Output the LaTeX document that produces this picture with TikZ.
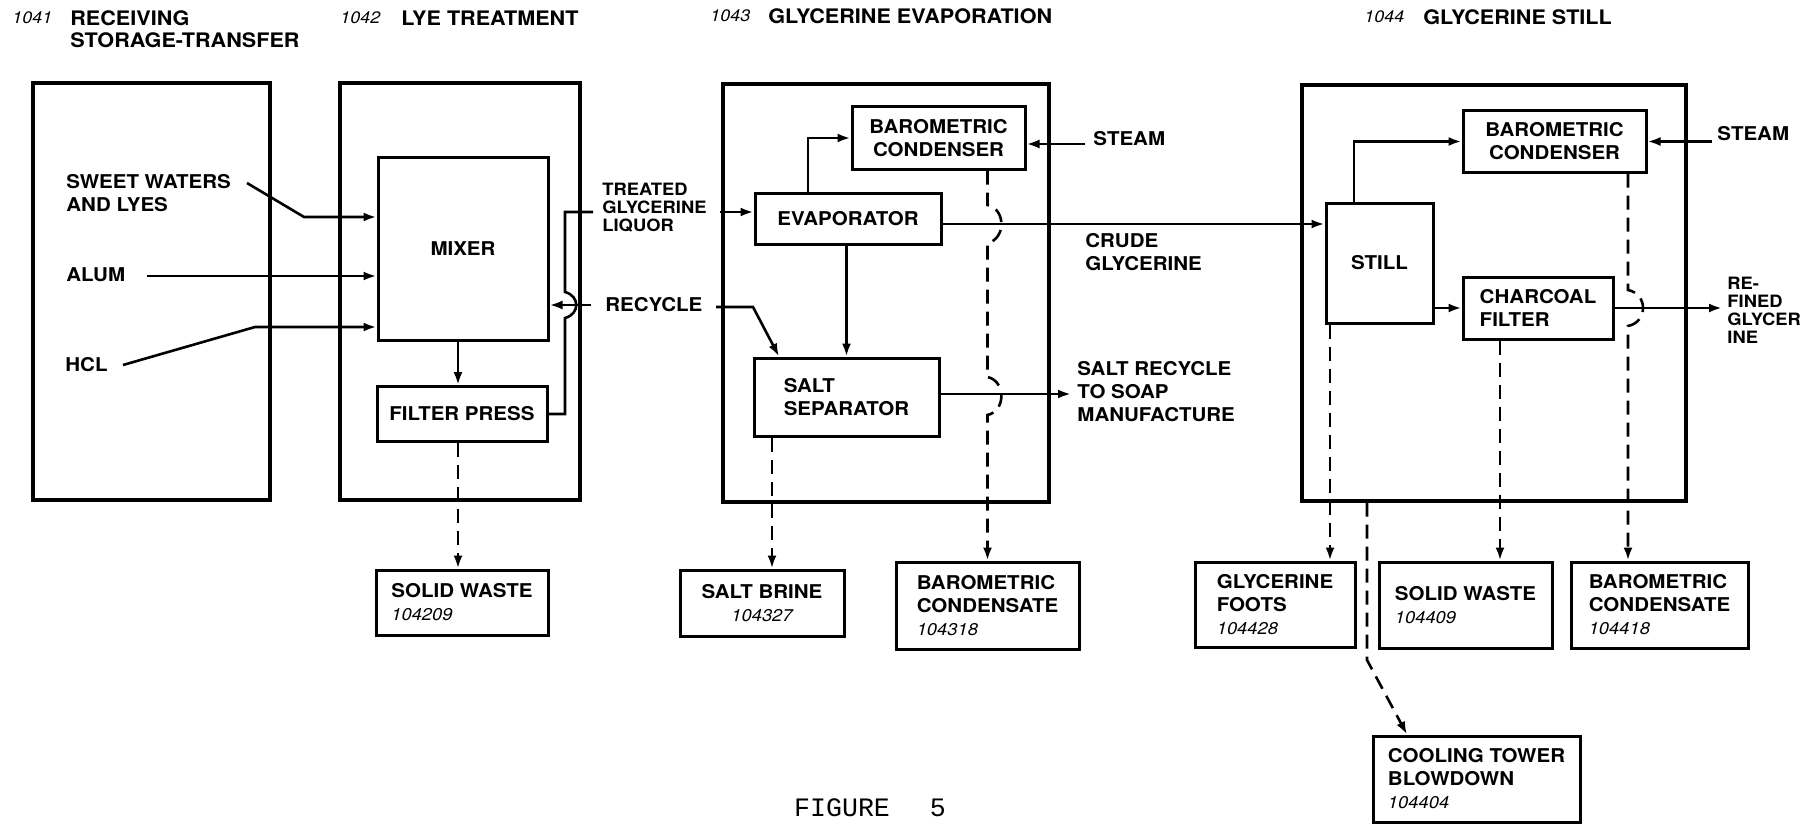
\documentclass[tikz,border=0pt]{standalone}
\usepackage{fontspec}
\setmainfont{TeX Gyre Heros}[FakeStretch=1.08]
\newfontfamily\figfont{Liberation Mono}
\usetikzlibrary{calc}
\usetikzlibrary{arrows.meta}

\newcommand\lbl{\fontsize{9.5}{11.5}\selectfont\bfseries}
\newcommand\sml{\fontsize{8.5}{9}\selectfont\bfseries}
\newcommand\hdr{\fontsize{10}{11}\selectfont\bfseries}
\newcommand\secno{\fontsize{8.3}{9}\selectfont\mdseries\itshape}
\newcommand\refno[1]{{\fontsize{8.5}{11.5}\selectfont\mdseries\itshape #1}}

\tikzset{
  area/.style={draw, line width=1.6pt, inner sep=0pt},
  unit/.style={draw, line width=1.5pt, inner sep=0pt, font=\lbl},
  boxsize/.style 2 args={minimum width=#1*0.5pt, minimum height=#2*0.5pt},
  tag/.style={inner sep=0pt, anchor=west, font=\lbl, align=left},
  pipe/.style={line width=1.3pt},
  flow/.style={pipe, -{Latex[length=6.5pt,width=4.5pt]}},
  waste/.style={flow, dash pattern=on 7pt off 4pt},
}

\begin{document}
\begin{tikzpicture}[x=0.5pt, y=-0.5pt]
\useasboundingbox (0,0) rectangle (1818,824);

% section titles
\node[tag, font=\secno] (n41) at (12,18) {1041};
\node[tag, font=\hdr] (t41) at (70,29) {RECEIVING\\STORAGE-TRANSFER};
\node[tag, font=\secno] (n42) at (340,18) {1042};
\node[tag, font=\hdr] (t42) at (401,18) {LYE TREATMENT};
\node[tag, font=\secno] (n43) at (710,16) {1043};
\node[tag, font=\hdr] (t43) at (768,16) {GLYCERINE EVAPORATION};
\node[tag, font=\secno] (n44) at (1364,17) {1044};
\node[tag, font=\hdr] (t44) at (1423,17) {GLYCERINE STILL};

% areas
\node[area, boxsize={237}{417}] (a41) at (151.5,291.5) {};
\node[area, boxsize={240}{417}] (a42) at (460,291.5) {};
\node[area, boxsize={326}{418}] (a43) at (886,293) {};
\node[area, boxsize={384}{416}] (a44) at (1494,293) {};

% lye treatment
\node[unit, boxsize={170}{183}] (mixer) at (463,248.5) {MIXER};
\node[unit, boxsize={170}{55}] (fp) at (462,414) {FILTER PRESS};
\node[unit, boxsize={172}{65}, align=left] (sw42) at (462,602.5) {SOLID WASTE\\\refno{104209}};

% evaporation
\node[unit, boxsize={173}{62}, align=center] (bc3) at (938.5,138) {BAROMETRIC\\CONDENSER};
\node[unit, boxsize={186}{51}] (evap) at (848,218.5) {EVAPORATOR};
\node[unit, boxsize={185}{78}, align=left] (ss) at (846.5,397) {SALT\\SEPARATOR};
\node[unit, boxsize={164}{66}, align=center] (brine) at (762,603) {SALT BRINE\\\refno{104327}};
\node[unit, boxsize={183}{87}, align=left] (bcd3) at (987.5,605.5) {BAROMETRIC\\CONDENSATE\\\refno{104318}};

% still
\node[unit, boxsize={183}{61}, align=center] (bc4) at (1554.5,141.5) {BAROMETRIC\\CONDENSER};
\node[unit, boxsize={107}{120}] (still) at (1379.5,263) {STILL};
\node[unit, boxsize={150}{62}, align=left] (cf) at (1538,308) {CHARCOAL\\FILTER};
\node[unit, boxsize={160}{85}, align=left] (foots) at (1275,604.5) {GLYCERINE\\FOOTS\\\refno{104428}};
\node[unit, boxsize={173}{86}, align=left] (sw44) at (1465.5,605) {SOLID WASTE\\\refno{104409}};
\node[unit, boxsize={177}{86}, align=left] (bcd4) at (1659.5,605) {BAROMETRIC\\CONDENSATE\\\refno{104418}};
\node[unit, boxsize={207}{86}, align=left] (ct) at (1476.5,779) {COOLING TOWER\\BLOWDOWN\\\refno{104404}};

% stream labels
\node[tag] (sw) at (66,193.5) {SWEET WATERS\\AND LYES};
\node[tag] (alum) at (66,275) {ALUM};
\node[tag] (hcl) at (65,365) {HCL};
\node[tag, font=\sml] (treated) at (602,208) {TREATED\\GLYCERINE\\LIQUOR};
\node[tag] (recycle) at (605,305) {RECYCLE};
\node[tag] (crude) at (1085,252.5) {CRUDE\\GLYCERINE};
\node[tag] (steam3) at (1093,139) {STEAM};
\node[tag] (steam4) at (1717,134) {STEAM};
\node[tag] (saltrec) at (1077,391.5) {SALT RECYCLE\\TO SOAP\\MANUFACTURE};
\node[tag, font=\sml] (refined) at (1727,310.5) {RE-\\FINED\\GLYCER\\INE};
\node[font=\figfont\fontsize{13.3}{15}\selectfont] (fig) at (870,808) {FIGURE\hspace{1.5em}5};

\coordinate (swi) at (247,183);
\coordinate (ali) at (147,276);
\coordinate (hci) at (123,365);
\coordinate (tgl) at (593,212);
\coordinate (tgr) at (720,212);
\coordinate (rcl) at (591,305);
\coordinate (rcr) at (716,307);

% feeds to mixer
\draw[flow] (swi) -- (304,217) -- (mixer.west |- 0,217);
\draw[flow] (ali) -- (ali -| mixer.west);
\draw[flow] (hci) -- (255,327) -- (mixer.west |- 0,327);
\draw[flow] (mixer.south -| 458,0) -- (fp.north -| 458,0);
\draw[pipe] (fp.east) -- (565,414) -- (565,318) .. controls (580,314) and (580,296) .. (565,292) -- (565,212) -- (tgl);
\draw[flow] (rcl) -- (rcl -| mixer.east);
\draw[waste] (fp.south -| 458,0) -- (sw42.north -| 458,0);

% evaporation streams
\draw[flow] (tgr) -- (tgr -| evap.west);
\draw[flow] (rcr) -- (753,307) -- (ss.north -| 779,0);
\draw[flow] (evap.north -| 808,0) |- (bc3.west);
\draw[flow] ([xshift=-4pt, yshift=-3pt]steam3.west |- bc3.east) -- ([yshift=-3pt]bc3.east);
\draw[flow] ([yshift=-2.75pt]evap.east) -- ([yshift=-2.75pt]evap.east -| still.west);
\draw[flow] (evap.south -| ss.north) -- (ss.north);
\draw[flow] ([yshift=1.5pt]ss.east) -- ([xshift=-3pt, yshift=1.5pt]ss.east -| saltrec.west);
\draw[waste] (bc3.south -| bcd3.north) -- (987.5,205) .. controls (1006,209) and (1006,239) .. (987.5,243)
  -- (987.5,377) .. controls (1006,381) and (1006,411) .. (987.5,415) -- (bcd3.north);
\draw[waste] (ss.south -| 772,0) -- (brine.north -| 772,0);

% still streams
\draw[flow] (still.north -| 1354,0) |- (bc4.west);
\draw[flow] ([xshift=-2.5pt]steam4.west |- bc4.east) -- (bc4.east);
\draw[flow] (still.east |- cf.west) -- (cf.west);
\draw[flow] (cf.east) -- ([xshift=-2.5pt]cf.east -| refined.west);
\draw[waste] (bc4.south -| 1628,0) -- (1628,290) .. controls (1648,294) and (1648,322) .. (1628,326) -- (bcd4.north -| 1628,0);
\draw[waste] (still.south -| 1330,0) -- (foots.north -| 1330,0);
\draw[waste] (cf.south -| 1500,0) -- (sw44.north -| 1500,0);
\draw[waste] (a44.south -| 1367,0) -- (1367,660) -- (ct.north -| 1407,0);

\end{tikzpicture}
\end{document}
